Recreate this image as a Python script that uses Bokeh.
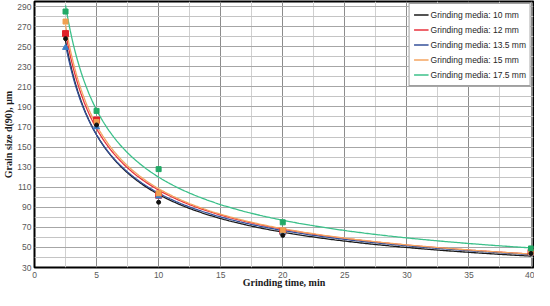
import numpy as np
from bokeh.plotting import figure
from bokeh.models import (FixedTicker, Range1d, Legend, LegendItem,
                          ColumnDataSource)
from bokeh.embed import file_html
from bokeh.resources import INLINE

# ---- data ----
times = [2.5, 5, 10, 20, 40]
series_names = ["Grinding media: 10 mm", "Grinding media: 12 mm",
                "Grinding media: 13.5 mm", "Grinding media: 15 mm",
                "Grinding media: 17.5 mm"]
d90_10mm = [258, 172, 95, 62, 44]
d90_12mm = [263, 177, 102, 66, 45]
d90_13_5mm = [249, 170, 101, 65, 44]
d90_15mm = [275, 175, 104, 67, 45]
d90_17_5mm = [285, 186, 128, 75, 49]
x_ticks = [0, 5, 10, 15, 20, 25, 30, 35, 40]
x_minor = [2.5, 7.5, 12.5, 17.5, 22.5, 27.5, 32.5, 37.5]
y_ticks = [30, 50, 70, 90, 110, 130, 150, 170, 190, 210, 230, 250, 270, 290]
y_minor = [40, 60, 80, 100, 120, 140, 160, 180, 200, 220, 240, 260, 280]
x_title = "Grinding time, min"
y_title = "Grain size d(90), μm"

series_values = [d90_10mm, d90_12mm, d90_13_5mm, d90_15mm, d90_17_5mm]
line_colors = ["#1a1a1a", "#e8323c", "#34509a", "#f4a460", "#3cc08a"]
marker_colors = ["#111111", "#e0202a", "#3a7ec6", "#f0a050", "#22aa66"]
markers = ["circle", "square", "triangle", "square", "square"]
marker_sizes = [4, 6, 6, 5, 5]

p = figure(width=534, height=290, output_backend="svg", toolbar_location=None,
           x_range=Range1d(0, 40.2), y_range=Range1d(30, 295),
           min_border_left=30, min_border_right=1, min_border_top=1,
           min_border_bottom=20)
p.background_fill_color = "white"
p.border_fill_color = "white"
p.outline_line_color = "black"
p.outline_line_width = 2

# axes
p.xaxis.ticker = FixedTicker(ticks=x_ticks, minor_ticks=x_minor)
p.yaxis.ticker = FixedTicker(ticks=y_ticks, minor_ticks=y_minor)
for ax in (p.xaxis[0], p.yaxis[0]):
    ax.axis_line_color = None
    ax.major_tick_line_color = None
    ax.minor_tick_line_color = None
    ax.major_tick_out = 0
    ax.minor_tick_out = 0
    ax.major_label_text_font = "Liberation Sans"
    ax.major_label_text_font_size = "8.5px"
    ax.major_label_text_color = "#595959"
    ax.axis_label_text_font = "Liberation Serif"
    ax.axis_label_text_font_style = "bold"
    ax.axis_label_text_font_size = "10px"
    ax.axis_label_text_color = "#1a1a1a"
p.xaxis.axis_label = x_title
p.yaxis.axis_label = y_title
p.xaxis.major_label_standoff = 4
p.xaxis.axis_label_standoff = -4
p.yaxis.major_label_standoff = 3
p.yaxis.axis_label_standoff = 0

p.xgrid.grid_line_color = "#8c8c8c"
p.xgrid.minor_grid_line_color = "#d0d0d0"
p.ygrid.grid_line_color = "#a6a6a6"
p.ygrid.minor_grid_line_color = "#c4c4c4"
p.xgrid.grid_line_width = 1
p.ygrid.grid_line_width = 1

legend_items = []
tx = np.array(times, dtype=float)
xs_fit = np.linspace(2.5, 40, 300)
for name, vals, lc in zip(series_names, series_values, line_colors):
    # power-law trend line fitted to the points (as in the source chart)
    b, a = np.polyfit(np.log(tx), np.log(np.array(vals, dtype=float)), 1)
    ys_fit = np.exp(a) * xs_fit ** b
    r = p.line(xs_fit, ys_fit, line_color=lc, line_width=1.3)
    legend_items.append(LegendItem(label=name, renderers=[r]))

# markers: draw black series last so it is on top
order = [1, 2, 3, 4, 0]
for i in order:
    src = ColumnDataSource(dict(x=times, y=series_values[i]))
    p.scatter("x", "y", source=src, marker=markers[i], size=marker_sizes[i],
              fill_color=marker_colors[i], line_color=marker_colors[i])

legend = Legend(items=legend_items, location="top_right")
legend.label_text_font = "Liberation Sans"
legend.label_text_font_size = "8.5px"
legend.label_text_color = "#262626"
legend.glyph_width = 15
legend.glyph_height = 13
legend.label_height = 13
legend.label_standoff = 2
legend.spacing = 2
legend.padding = 4
legend.margin = 2
legend.border_line_color = "#404040"
legend.border_line_width = 1
legend.background_fill_color = "white"
legend.background_fill_alpha = 1
p.add_layout(legend)

open("out.html", "w").write(file_html(p, INLINE))
